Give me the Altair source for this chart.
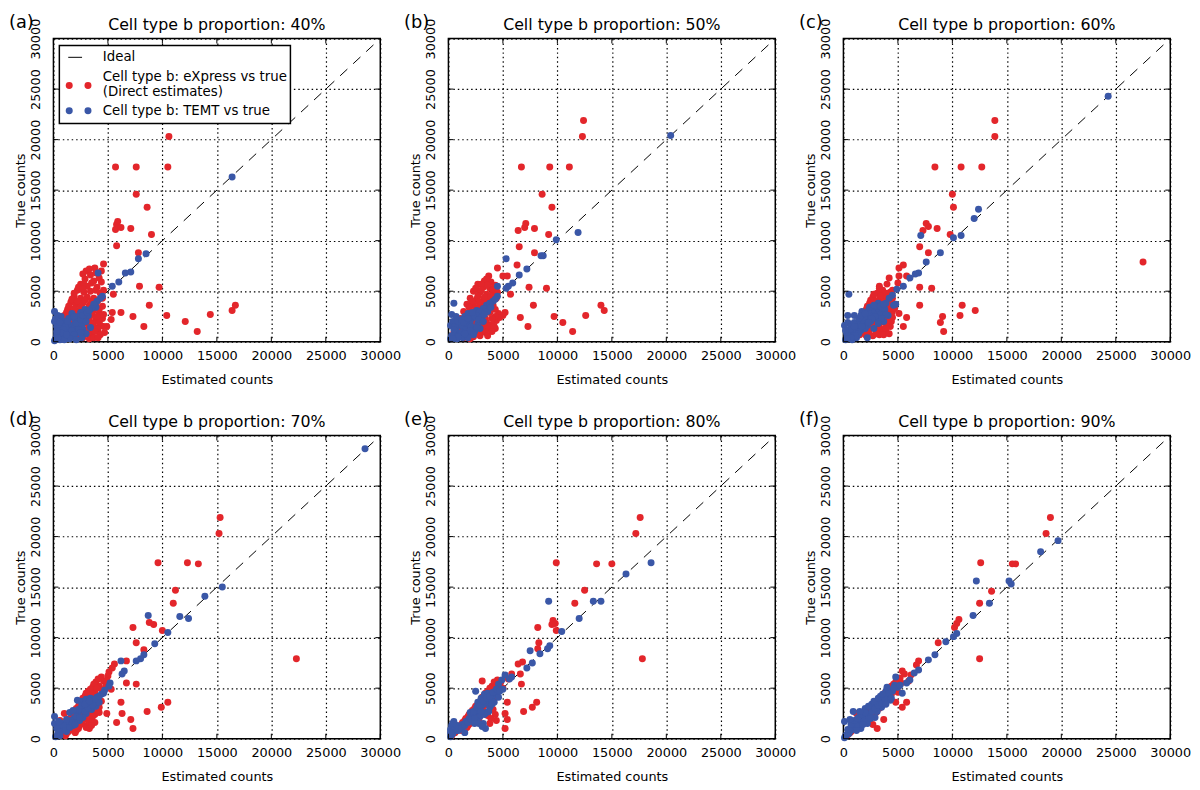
import altair as alt
import pandas as pd

TICKS = [0, 5000, 10000, 15000, 20000, 25000, 30000]
IDEAL = [0, 29500]
TITLES = ["Cell type b proportion: 40%", "Cell type b proportion: 50%", "Cell type b proportion: 60%",
          "Cell type b proportion: 70%", "Cell type b proportion: 80%", "Cell type b proportion: 90%"]
LABELS = ["(a)", "(b)", "(c)", "(d)", "(e)", "(f)"]
LEGEND_TEXT = ["Ideal", "Cell type b: eXpress vs true", "(Direct estimates)", "Cell type b: TEMT vs true"]
X_TITLE = "Estimated counts"
Y_TITLE = "True counts"
RED = "#e3262b"
BLUE = "#3a57a7"

A_RED = [(10500,21900),(10600,20300),(5700,17300),(7600,17300),(10500,17300),
         (7600,14600),(8600,13300),(5800,11600),(5900,11900),(5700,11100),(6200,11300),(7100,11200),(9000,10600),(5800,9500),(7800,8800),
         (4600,7700),(3800,7300),(7900,5500),(9700,5400),(5500,4700),(8800,3600),(7300,2500),(10400,2600),(12100,2000),(13200,1000),
         (14400,2700),(16400,3100),(16700,3600),(8300,1500),(6200,2900),(5400,2900),(5300,2200),(4900,1500),
         (3000,7000),(3400,6600),(2900,6200),(3700,6000),(4200,6300),(2500,5700),(3100,5500),(4000,5400),(2200,5100),(2800,4900),
         (3400,5000),(4300,4800),(1900,4500),(2500,4300),(3100,4400),(3700,4300),(4500,4300),(1600,3900),(2100,3700),(2700,3800),
         (3300,3600),(3900,3700),(4500,3500),(1300,3200),(1800,3000),(2400,3100),(3000,2900),(3600,3000),(4200,2800),(1000,2600),
         (1500,2400),(2100,2500),(2700,2300),(3300,2400),(3900,2200),(4500,2300),(800,1900),(1300,1700),(1900,1900),(2500,1600),
         (3100,1800),(3700,1500),(4300,1600),(600,1200),(1100,1000),(1700,1200),(2300,900),(2900,1100),(3500,800),(4100,1000),
         (400,500),(900,400),(1500,500),(2100,300),(2700,400),(3300,300),(4000,1300),(4700,900),
         (2700,6700),(3300,7200),(3900,6800),(4400,7000),(2300,5400),(2800,5700),(3500,5800),(4400,5900),(1900,4800),(2700,5200),
         (3900,5100),(4600,5100),(1700,4200),(2200,4000),(2900,4100),(3500,4000),(4100,4100),(1400,3500),(1900,3300),(2500,3400),
         (3100,3200),(3600,3300),(4200,3200),(1200,2900),(1700,2700),(2300,2800),(2900,2600),(3500,2700),(4000,2500),(4600,2700),
         (3300,2100),(3600,1800),(4200,1900),(4600,1500),(3200,1300),(3800,1000),(4300,700),(3700,400),(4100,400),(2500,1300),(2000,1000)]
A_BLUE = [(16400,16300),(8500,8700),(7800,8200),(7100,6900),(6600,6800),(6000,5900),(5400,5500),(4100,6800),(4500,4500),(4300,4300),
          (4000,4000),(3900,3400),(3700,3700),(3500,3300),(3200,2600),(2900,3200),(100,3000),(100,2000),(700,2500),(300,1500),
          (1700,2800),(2500,2900),(2300,2500),(2800,2000),(2000,2100),(1400,2300),(1000,2000),(2400,1600),(1600,1600),(800,1500),
          (3400,1400),(2700,1200),(1900,1300),(1200,1100),(500,1100),(3000,800),(2200,900),(1500,800),(900,600),(300,700),
          (2600,400),(1900,500),(1200,300),(600,200),(200,300),(100,100),
          (400,2600),(200,2300),(600,1900),(1100,1500),(1300,2000),(900,1200),(1700,1100),(2100,1800),(2500,2200),(2700,2600),
          (3000,2000),(2600,1500),(2300,1200),(1900,700),(1500,300),(1000,200),(700,900),(400,400),(300,1000),(1200,700),
          (2100,200),(2500,900),(3100,2900),(3300,3100),(1900,2500)]

B_RED = [(12400,21900),(12300,20300),(6700,17300),(9300,17300),(11100,17300),(8600,14600),(9500,13300),(7100,11700),(7000,11300),
         (6400,11000),(7900,11200),(9200,10600),(6500,9400),(7900,8800),(6300,7600),(4500,7300),(5000,6500),(5400,6500),(7400,5400),
         (9000,5300),(7800,3600),(14000,3600),(14300,3100),(12600,2600),(9700,2500),(10500,1900),(11400,1000),(7300,1500),(6600,2400),
         (5200,2900),(5000,2600),(4600,2800),(4400,2100),(4700,2400),(5700,4700),(4300,1300),(3300,1000),
         (3700,6500),(3300,6000),(3900,5900),(2700,5700),(3200,5400),(3800,5300),(4300,5600),(2300,5000),(2900,4900),(3500,4700),
         (4100,4800),(2000,4300),(2600,4200),(3200,4100),(3800,4200),(4400,4300),(1700,3700),(2300,3600),(2900,3500),(3500,3400),
         (4100,3600),(1400,3000),(2000,2900),(2600,2800),(3200,2700),(3800,2900),(4300,2500),(1100,2300),(1700,2200),(2300,2100),
         (2900,2000),(3500,1900),(4000,1700),(800,1600),(1400,1500),(2000,1400),(2600,1200),(3200,1100),(3700,1300),(500,900),
         (1100,800),(1700,700),(2300,500),(2900,600),(3400,900),
         (3500,6200),(3000,5700),(3600,5600),(4100,5200),(2500,5300),(3000,5100),(2700,4500),(3300,4400),(3900,4500),(4500,4900),
         (2200,4000),(2800,3900),(3400,3800),(4000,3900),(1900,3400),(2500,3300),(3100,3200),(3700,3100),(4300,3200),(1600,2600),
         (2200,2600),(2800,2500),(3400,2300),(4000,2300),(1300,1900),(1900,1800),(2500,1700),(3100,1500),(3600,1600),(4200,1500),
         (1000,1200),(1600,1100),(2200,1000),(2800,900),(3600,600),(4000,1000),(800,500),(1400,400),(2000,300)]
B_BLUE = [(20400,20400),(11900,10800),(9900,10100),(8700,8500),(8500,8500),(7200,7200),(6500,6600),(5300,8200),(5900,5800),
          (5500,5500),(5300,5300),(4500,5500),(4500,4500),(4100,4000),(3500,3600),(2600,3100),(1800,2800),(500,3800),(300,2700),
          (200,1600),(3800,3800),(3200,3300),(2900,3000),(2600,2600),(2300,2400),(2000,2000),(3600,3000),(3000,2400),(1700,1600),
          (1400,1200),(2400,1000),(1700,700),(1100,1600),(1500,2500),(2100,1500),(2700,1800),(1000,800),(700,1200),(500,700),
          (1300,400),(800,300),(200,300),(400,2000),(2900,1300),
          (300,600),(600,1500),(900,2000),(1200,2200),(1400,1900),(1800,2300),(2200,2900),(2800,2200),(3300,2700),(3900,3400),
          (4300,4200),(2000,1100),(2600,1400),(2300,700),(1800,400),(1200,900),(900,500),(500,1200),(1500,800),(3200,2000),
          (700,2500),(400,300)]

C_RED = [(13900,21900),(13900,20300),(8400,17300),(10800,17300),(12700,17300),(10000,14600),(10100,13300),(7800,11400),(7600,11700),
         (7300,11000),(8600,11200),(9800,10600),(7000,9400),(7800,8800),(27500,7900),(8100,5300),(7000,5400),(7000,3600),(10900,3600),
         (12100,3100),(10700,2600),(9100,2500),(8900,1900),(9200,1000),(5800,2400),(5500,1500),(5100,2800),(5500,7600),(5100,7300),
         (5800,6500),(5100,6500),(5000,5800),(4200,6300),(4000,5700),(3300,5500),(4500,2400),(4300,1500),(3100,1000),(4400,2000),
         (3600,5100),(3100,4800),(3700,4600),(4300,4900),(2700,4400),(3300,4200),(3900,4100),(4500,4300),(2400,3800),(3000,3700),
         (3600,3600),(4200,3500),(4700,3700),(2100,3200),(2700,3100),(3300,3000),(3900,2900),(4500,3000),(1800,2600),(2400,2500),
         (3000,2400),(3600,2300),(4200,2400),(1500,2000),(2100,1900),(2700,1800),(3300,1700),(3900,1800),(1200,1400),(1800,1300),
         (2400,1200),(3000,1100),(3600,1200),(900,800),(1500,700),(2100,600),(2700,600),(3300,700),(3900,1000),
         (3300,5300),(3900,4800),(4500,5100),(2800,4700),(3400,4500),(4000,4400),(2500,4100),(3100,4000),(3700,3900),(4300,3800),
         (2200,3500),(2800,3400),(3500,3300),(4100,3200),(4700,3300),(1900,2900),(2500,2800),(3100,2700),(3800,2600),(4400,2700),
         (1600,2300),(2200,2200),(2900,2100),(3500,2000),(4100,2100),(1300,1700),(1900,1600),(2600,1500),(3200,1400),(3900,1300),
         (1000,1100),(1700,1000),(2300,900),(3000,800),(3700,700),(4200,800)]
C_BLUE = [(24300,24300),(12400,13100),(12000,12200),(10800,10500),(10100,10300),(7100,10500),(8900,8800),(7600,7900),(6900,6800),
          (6600,6700),(6100,6300),(5500,5500),(4900,5200),(4800,3700),(4600,3600),(500,4700),(100,1600),(4500,4600),(4200,4300),
          (3900,3800),(3600,3400),(3300,3100),(3000,3000),(2700,2800),(2400,2600),(2100,2300),(1800,1900),(1500,1600),(1200,1300),
          (3200,3800),(2600,3200),(2300,3100),(3000,3500),(3800,3200),(4100,2600),(3700,2000),(3400,2700),(3100,2200),(2800,1300),
          (2500,2000),(2200,1600),(1600,1100),(1900,2400),(1700,3000),(1000,2600),(1300,1800),(900,900),(400,1900),(700,1500),
          (400,1100),(1200,400),(500,500),(800,200),(200,200),(2200,400),
          (300,800),(600,1200),(1000,1900),(1400,2300),(1600,2600),(2000,2800),(2400,3400),(2800,3600),(3400,3500),(3700,3700),
          (3900,2700),(3500,2300),(3200,1800),(2900,2500),(2600,2300),(2300,1900),(2000,1300),(1700,1500),(1400,800),(1100,600),
          (700,400),(1000,1500),(400,2600),(200,1100),(300,300)]

D_RED = [(15300,21900),(15200,20300),(9600,17400),(12300,17400),(13300,17300),(11200,14700),(11000,13400),(8800,11500),(9200,11300),
         (7300,11000),(10000,10700),(7600,9500),(8300,8800),(22300,7900),(6700,7700),(5600,7400),(7600,5400),(6700,5500),(6200,3600),
         (10500,3600),(9900,3100),(8600,2700),(6300,2500),(4900,2500),(5800,1600),(7100,1900),(7300,1000),(5400,7000),(5100,6600),
         (5300,4900),(1000,2500),
         (4400,6100),(3900,5600),(4600,5700),(3600,5100),(4200,5200),(3200,4700),(3800,4600),(4500,4800),(2900,4200),(3500,4100),
         (4100,4000),(2600,3700),(3200,3600),(3800,3500),(2300,3200),(2900,3100),(3500,3000),(4200,3100),(2000,2700),(2600,2600),
         (3200,2500),(3800,2400),(1700,2200),(2300,2100),(2900,2000),(3500,1900),(1400,1700),(2000,1600),(2600,1500),(3200,1400),
         (1100,1200),(1700,1100),(2300,1000),(800,800),(1400,700),(2000,600),(500,400),(1100,300),(4200,2600),(600,1800),
         (4800,5200),(5000,6200),
         (4100,5900),(4900,5700),(3700,5400),(3400,4900),(4000,5000),(3000,4500),(3600,4400),(2700,4000),(3300,3900),(4400,3700),
         (2400,3500),(3000,3400),(2100,3000),(2700,2900),(3400,2700),(4000,2800),(1800,2500),(2400,2400),(3000,2300),(3600,2200),
         (1500,2000),(2100,1900),(2700,1800),(3300,1700),(3800,1600),(1200,1500),(1800,1400),(2400,1300),(3000,1100),(900,1000),
         (1500,1000),(2100,800),(700,600),(1200,500),(3300,1000),(3500,1300)]
D_BLUE = [(28600,28700),(15500,15000),(13900,14100),(12400,11900),(11600,12100),(8700,12200),(10500,10500),(9300,9400),(8300,8300),
          (8000,7900),(7600,7700),(6200,7700),(6500,6700),(6300,6400),(5200,5500),(5100,5200),(4700,4800),(4400,4400),(4000,4100),
          (3700,3600),(3400,3300),(3100,3500),(2800,3000),(2500,2800),(2200,2500),(1900,2000),(1600,1800),(1300,1400),(1000,1100),
          (700,800),(400,500),(200,200),(100,2200),(100,1500),(2200,3800),(2600,3700),(3000,2500),(3500,2900),(2400,1800),
          (1800,1300),(1200,700),(800,1500),(500,1100),(3900,3200),(4200,3600),(2700,2100),(1500,2600),(3000,3900),(3400,4000),
          (300,1000),(600,700),(900,1300),(1100,800),(1500,1100),(1700,1600),(2100,2200),(2000,1400),(2400,2100),(2900,2700),
          (3200,3000),(3600,3300),(3800,3900),(4200,4200),(2300,2900),(2600,3300),(1800,2800),(1200,1900),(500,1700),(2900,3400),
          (3300,3700),(4600,4500),(600,300)]

E_RED = [(17600,21900),(17200,20300),(9900,17400),(13600,17300),(15000,17300),(12500,14700),(11600,13400),(9600,11700),(9800,11400),
         (9500,11300),(9900,10700),(8200,11000),(8300,9500),(8200,8900),(17800,7900),(6800,7600),(6400,7400),(6600,6400),(5800,6400),
         (6700,5400),(5400,3600),(8100,3600),(7700,3100),(6900,2700),(5200,2500),(5400,1900),(5200,1000),(3100,5700),(4300,5500),
         (4500,5800),(4000,5200),(4700,5300),(3600,4700),(4300,4800),(5000,5000),(3300,4300),(3900,4200),(3000,3800),(3600,3700),
         (4200,3900),(2700,3400),(3300,3300),(2400,3000),(3000,2900),(2100,2600),(2700,2500),(3300,2700),(1800,2200),(2400,2100),
         (1500,1800),(2100,1700),(1200,1400),(1800,1300),(900,1000),(1500,900),(600,600),(300,300),(3600,2300),(4300,2400),
         (4400,1800),(3800,1500),(2800,1800),(5500,5900),
         (4200,5600),(4800,5600),(3800,5000),(4400,5100),(3400,4500),(4000,4600),(3100,4100),(3700,4100),(2800,3600),(3400,3900),
         (2500,3200),(3100,3100),(2200,2800),(2900,2700),(1900,2400),(2600,2300),(1600,2000),(2300,1900),(1300,1600),(2000,1500),
         (1000,1200),(1700,1100),(700,800),(1200,800),(400,500),(3900,2000),(4100,2900)]
E_BLUE = [(18600,17400),(16300,16300),(14000,13600),(13300,13600),(9200,13600),(12000,11900),(10400,10600),(9300,9200),(9100,8900),
          (8400,8400),(7500,8700),(7700,7500),(7200,7000),(5800,6100),(5200,6300),(5600,5900),(4600,5400),(5000,4900),(2500,4700),
          (4300,4400),(4000,4000),(3700,3800),(3400,3500),(3100,3300),(2800,2900),(2500,2600),(2200,2300),(1900,2000),(1600,1700),
          (1300,1400),(1000,1100),(700,800),(400,500),(200,200),(500,1700),(300,1300),(200,900),(3400,1000),(3200,1500),(3500,2600),
          (3800,3100),(4200,3600),(4600,4100),(3000,4000),(2700,3600),(3300,4400),(2900,2200),(2600,1800),(3600,4500),(4900,5800),
          (300,700),(600,1000),(900,800),(800,1300),(1200,1000),(1500,1300),(1800,1600),(2100,1900),(2400,2000),(2000,2600),
          (2300,2700),(2600,3100),(2900,3300),(3200,3700),(3500,4000),(3800,4200),(4100,4600),(4400,4900),(4000,3400),(3700,2700),
          (3300,2400),(3000,2700),(2800,1500),(3100,1200),(2400,1500),(1500,600),(400,1500),(200,600),(4700,4700)]

F_RED = [(19000,21900),(18600,20300),(12600,17400),(15500,17300),(15800,17300),(13600,14600),(12500,13400),(12500,7900),(10600,11800),
         (10400,11400),(10200,11000),(8700,9500),(6900,7700),(6700,7300),(5400,6700),(5800,3600),(5400,3100),(4800,3600),(3100,1000),
         (3700,1900),(6200,6300),
         (4800,5600),(4400,5200),(5200,6000),(4000,4800),(3600,4300),(3200,3900),(3900,3700),(2900,3500),(2500,3100),(3300,3000),
         (2200,2700),(1900,2300),(2600,2200),(1600,1900),(1300,1500),(2000,1700),(1000,1100),(700,700),(400,400),(3000,2600),
         (2700,1400),(5600,6400),(4200,4100),(5000,4600),(6000,5700),(1200,2500),
         (4600,5400),(5000,5800),(4200,5000),(3800,4500),(3400,4100),(3000,3700),(2700,3300),(2400,2900),(2100,2500),(1800,2100),
         (1500,1700),(1200,1300),(900,900),(600,600),(4400,4400),(4700,5000),(3100,3300),(2800,2900),(2000,2000),(1400,1800),
         (1100,1500),(800,1100),(2300,1900),(5300,5500)]
F_BLUE = [(19700,19600),(18100,18500),(15200,15600),(15400,15300),(12200,15600),(13400,13400),(11900,12200),(10400,10400),(10100,10100),
          (9400,9600),(8400,8300),(7800,7800),(6900,6800),(6100,5800),(5400,4500),(4800,6100),(5800,5500),(5000,5100),(4500,4700),
          (4100,4300),(3700,3900),(3300,3600),(3000,3200),(2700,2800),(2400,2500),(2100,2200),(1800,1900),(1500,1600),(1200,1300),
          (900,1000),(600,700),(300,400),(100,100),(100,1700),(900,2700),(2000,3000),(2900,2100),(3500,3100),(2200,1500),(1600,1000),
          (3900,4700),(4300,3800),(2600,3400),(1400,2100),(6500,6500),(3400,4200),(4700,5300),(3100,2700),
          (200,300),(500,500),(800,900),(1100,1100),(1400,1400),(1700,1700),(2000,2000),(2300,2300),(2600,2700),(2900,3000),
          (3200,3300),(3500,3500),(3800,4000),(4200,4500),(4600,5000),(5200,5300),(400,900),(700,1400),(1000,1800),(1300,2000),
          (1700,2400),(2000,2600),(2500,2000),(1800,1400),(1200,800),(2300,3200),(2800,3700),(3200,4000),(3600,4400),(4000,5100),
          (4400,4000),(3900,3400),(1500,2700),(600,1900)]

PANEL_DATA = [(A_RED, A_BLUE), (B_RED, B_BLUE), (C_RED, C_BLUE), (D_RED, D_BLUE), (E_RED, E_BLUE), (F_RED, F_BLUE)]

W, H = 331, 307
PT = 50
XS = alt.Scale(domain=[0, 30000], nice=False, zero=False)
YS = alt.Scale(domain=[0, 30000], nice=False, zero=False)
DUMMY = pd.DataFrame({"k": [0]})


def xenc():
    return alt.X("x:Q", scale=XS, axis=alt.Axis(values=TICKS, format="d", title=X_TITLE, labelPadding=8, titlePadding=11))


def yenc():
    return alt.Y("y:Q", scale=YS, axis=alt.Axis(values=TICKS, format="d", title=Y_TITLE, labelAngle=270, labelAlign="center",
                                              labelBaseline="bottom", labelPadding=11, titlePadding=2))


def panel(i):
    red, blue = PANEL_DATA[i]
    df_r = pd.DataFrame(red, columns=["x", "y"])
    df_b = pd.DataFrame(blue, columns=["x", "y"])
    df_i = pd.DataFrame({"x": IDEAL, "y": IDEAL})
    df_t = pd.DataFrame({"x": TICKS, "y": TICKS})

    layers = []
    layers.append(alt.Chart(df_i).mark_line(color="black", strokeWidth=1, strokeDash=[10, 8]).encode(x=xenc(), y=yenc()))
    layers.append(alt.Chart(df_r).mark_circle(size=PT, opacity=1, color=RED).encode(x=xenc(), y=yenc()))
    layers.append(alt.Chart(df_b).mark_circle(size=PT, opacity=1, color=BLUE).encode(x=xenc(), y=yenc()))
    # inward ticks on all four sides
    layers.append(alt.Chart(df_t).mark_rule(color="black", strokeWidth=1).encode(x=xenc(), y=alt.value(H), y2=alt.value(H - 5)))
    layers.append(alt.Chart(df_t).mark_rule(color="black", strokeWidth=1).encode(x=xenc(), y=alt.value(0), y2=alt.value(5)))
    layers.append(alt.Chart(df_t).mark_rule(color="black", strokeWidth=1).encode(y=yenc(), x=alt.value(0), x2=alt.value(5)))
    layers.append(alt.Chart(df_t).mark_rule(color="black", strokeWidth=1).encode(y=yenc(), x=alt.value(W), x2=alt.value(W - 5)))
    # panel letter and panel title
    layers.append(alt.Chart(DUMMY).mark_text(fontSize=18, align="left", baseline="middle", color="black").encode(
        x=alt.value(-45), y=alt.value(-16), text=alt.value(LABELS[i])))
    layers.append(alt.Chart(DUMMY).mark_text(fontSize=16, align="center", baseline="middle", color="black").encode(
        x=alt.value(W / 2), y=alt.value(-14), text=alt.value(TITLES[i])))

    if i == 0:
        layers.append(alt.Chart(DUMMY).mark_rect(fill="white", stroke="black", strokeWidth=1.5).encode(
            x=alt.value(6), x2=alt.value(240), y=alt.value(7), y2=alt.value(86)))
        layers.append(alt.Chart(DUMMY).mark_rule(color="black", strokeWidth=1).encode(
            x=alt.value(15), x2=alt.value(29), y=alt.value(19)))
        for px in (16, 35):
            layers.append(alt.Chart(DUMMY).mark_circle(size=PT, opacity=1, color=RED).encode(
                x=alt.value(px), y=alt.value(47.5)))
            layers.append(alt.Chart(DUMMY).mark_circle(size=PT, opacity=1, color=BLUE).encode(
                x=alt.value(px), y=alt.value(73)))
        for txt, py in zip(LEGEND_TEXT, (19, 39, 54, 73)):
            layers.append(alt.Chart(DUMMY).mark_text(fontSize=13.5, align="left", baseline="middle", color="black").encode(
                x=alt.value(50), y=alt.value(py), text=alt.value(txt)))

    return alt.layer(*layers).properties(width=W, height=H)


chart = alt.concat(*[panel(i) for i in range(6)], columns=3, spacing={"row": 95, "column": 69}, bounds="flush").properties(
    padding={"left": 0, "top": 0, "right": 0, "bottom": 0}
).configure(font="DejaVu Sans").configure_view(stroke="black", strokeWidth=1.5).configure_axis(
    labelFontSize=13, titleFontSize=13, titleFontWeight="normal", labelColor="black", titleColor="black",
    grid=True, gridColor="black", gridDash=[1.5, 3], gridWidth=1.2, gridOpacity=1, ticks=False, domain=False,
    labelFlush=False, labelOverlap=False, labelBound=False, zindex=1
)

chart.save("out.html", embed_options={"renderer": "svg", "actions": False})
